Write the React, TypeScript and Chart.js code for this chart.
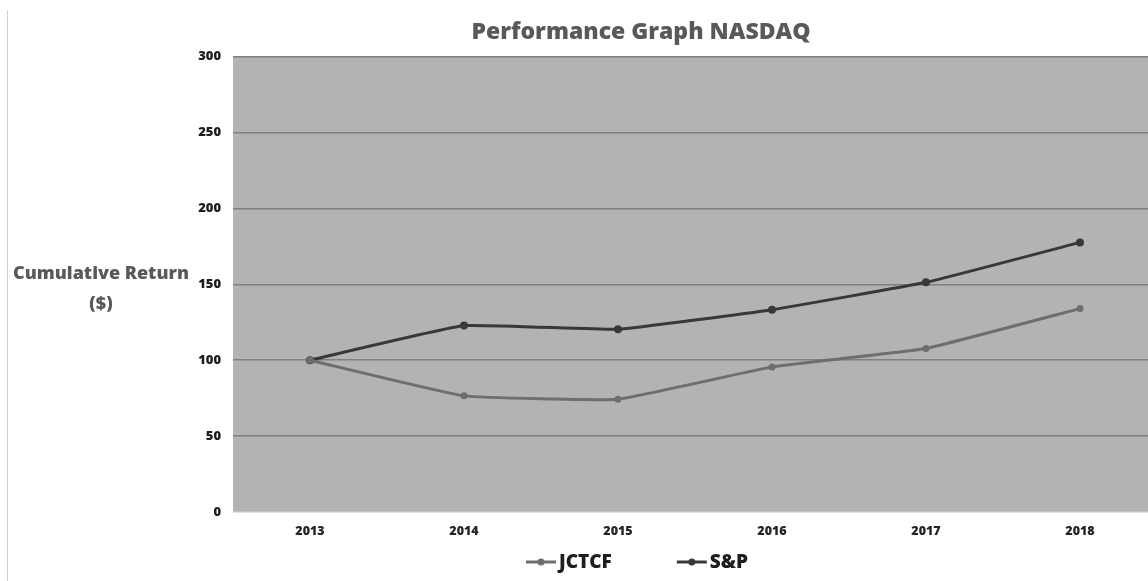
import React, { useEffect, useRef } from "react";
import { Chart, registerables } from "chart.js";

Chart.register(...registerables);

const years = ["2013", "2014", "2015", "2016", "2017", "2018"];
const jctcfValues = [100, 76.5, 74.3, 95.6, 107.7, 134];
const spValues = [100, 122.8, 120.4, 133.3, 151.3, 177.6];
const seriesNames = ["JCTCF", "S&P"];
const seriesColors = ["#6e6e6e", "#383838"];
const yMin = 0;
const yMax = 300;
const yStep = 50;
const titleText = "Performance Graph NASDAQ";
const yTitleLines = ["Cumulative Return", "($)"];

const FONT = "'Open Sans', 'Liberation Sans', sans-serif";
const WEIGHT = "800";

const plotBg = {
  id: "plotBg",
  beforeDraw(chart: any) {
    const { ctx, chartArea } = chart;
    ctx.save();
    ctx.fillStyle = "#b3b3b3";
    ctx.fillRect(chartArea.left, chartArea.top, chartArea.right - chartArea.left, chartArea.bottom - chartArea.top);
    ctx.restore();
  },
};

const yTitle = {
  id: "yTitle",
  afterDraw(chart: any) {
    const { ctx } = chart;
    const yScale = chart.scales.y;
    const cx = 101;
    const mid = yScale.getPixelForValue(150) + 5;
    ctx.save();
    ctx.fillStyle = "#595959";
    ctx.font = `${WEIGHT} 18px ${FONT}`;
    ctx.textAlign = "center";
    ctx.textBaseline = "middle";
    ctx.fillText(yTitleLines[0], cx, mid - 15);
    ctx.fillText(yTitleLines[1], cx, mid + 15);
    ctx.restore();
  },
};

const customLegend = {
  id: "customLegend",
  afterDraw(chart: any) {
    const { ctx } = chart;
    const markerW = 30;
    const gap = 3;
    const spacing = 65;
    ctx.save();
    ctx.font = `${WEIGHT} 19px ${FONT}`;
    const widths = seriesNames.map((n) => ctx.measureText(n).width);
    const total = widths.reduce((a, b) => a + b, 0) + seriesNames.length * (markerW + gap) + spacing * (seriesNames.length - 1);
    let x = chart.width / 2 - 4 - total / 2;
    const y = chart.height - 19;
    seriesNames.forEach((name, i) => {
      ctx.strokeStyle = seriesColors[i];
      ctx.lineWidth = 3;
      ctx.beginPath();
      ctx.moveTo(x, y);
      ctx.lineTo(x + markerW, y);
      ctx.stroke();
      ctx.fillStyle = seriesColors[i];
      ctx.beginPath();
      ctx.arc(x + markerW / 2, y, 3.5, 0, Math.PI * 2);
      ctx.fill();
      ctx.fillStyle = "#1e1e1e";
      ctx.textAlign = "left";
      ctx.textBaseline = "middle";
      ctx.fillText(name, x + markerW + gap, y + 1);
      x += markerW + gap + widths[i] + spacing;
    });
    ctx.restore();
  },
};

export default function App() {
  const ref = useRef<HTMLCanvasElement>(null);

  useEffect(() => {
    if (!ref.current) return;
    const chart = new Chart(ref.current, {
      type: "line",
      data: {
        labels: years,
        datasets: [
          {
            label: seriesNames[0],
            data: jctcfValues,
            borderColor: seriesColors[0],
            backgroundColor: seriesColors[0],
            borderWidth: 3,
            pointRadius: 3.5,
            pointBorderWidth: 0,
            tension: 0.1,
          },
          {
            label: seriesNames[1],
            data: spValues,
            borderColor: seriesColors[1],
            backgroundColor: seriesColors[1],
            borderWidth: 3,
            pointRadius: 4,
            pointBorderWidth: 0,
            tension: 0.1,
          },
        ],
      },
      options: {
        responsive: false,
        animation: false,
        devicePixelRatio: 1,
        layout: { padding: { left: 125, right: 125, top: 0, bottom: 39 } },
        plugins: {
          legend: { display: false },
          tooltip: { enabled: false },
          title: {
            display: true,
            text: titleText,
            color: "#595959",
            font: { family: FONT, size: 23, weight: WEIGHT },
            padding: { top: 19, bottom: 10 },
          },
        },
        scales: {
          x: {
            offset: true,
            grid: { display: false, drawTicks: false },
            border: { display: false },
            ticks: {
              color: "#262626",
              font: { family: FONT, size: 12.5, weight: WEIGHT },
              padding: 12,
              maxRotation: 0,
            },
            afterFit(scale: any) {
              scale.height = 30;
            },
          },
          y: {
            min: yMin,
            max: yMax,
            grid: {
              drawTicks: false,
              color: (c: any) => (c.tick && c.tick.value === 0 ? "#c4c4c4" : "#808080"),
              lineWidth: 1.5,
            },
            border: { display: false },
            ticks: {
              stepSize: yStep,
              color: "#1e1e1e",
              font: { family: FONT, size: 13, weight: WEIGHT },
              padding: 12,
            },
            afterFit(scale: any) {
              scale.width = 108;
            },
          },
        },
      },
      plugins: [plotBg, yTitle, customLegend],
    });
    return () => chart.destroy();
  }, []);

  return (
    <div style={{ position: "fixed", left: 0, top: 0, width: 1148, height: 581, overflow: "hidden", background: "#fff" }}>
      <canvas ref={ref} width={1282} height={581} style={{ position: "absolute", left: 0, top: 0, width: 1282, height: 581 }} />
      <div style={{ position: "absolute", left: 7, top: 10, width: 0, height: 571, borderLeft: "1px solid #cfcfcf" }} />
    </div>
  );
}
